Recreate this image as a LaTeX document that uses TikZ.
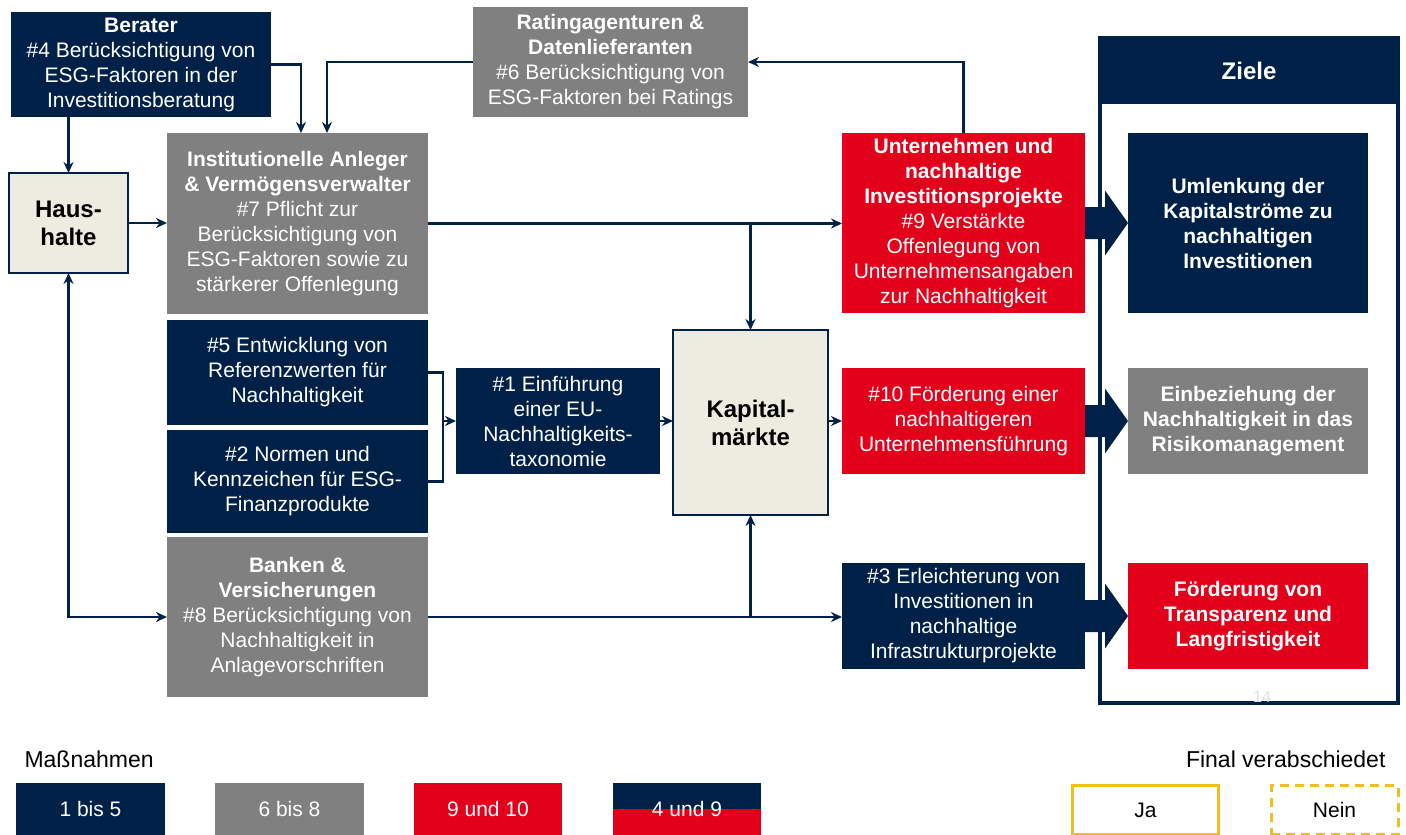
\documentclass[tikz,border=0pt]{standalone}
\usepackage{fontspec}
\setmainfont{Liberation Sans}
\usetikzlibrary{arrows.meta,calc}
\definecolor{navyc}{HTML}{002147}
\definecolor{grayc}{HTML}{808080}
\definecolor{redc}{HTML}{E2001A}
\definecolor{beigec}{HTML}{EEECE1}
\definecolor{goldc}{HTML}{F0BE1E}
\newcommand{\boxfont}{\fontsize{21}{25}\selectfont}
\newcommand{\bigfont}{\fontsize{24}{28}\selectfont}
\newcommand{\legfont}{\fontsize{23}{27}\selectfont}
\newcommand{\legboxfont}{\fontsize{21}{25}\selectfont}
\tikzset{
  box/.style={inner sep=0pt, outer sep=0pt, align=center, font=\boxfont, text=white},
  navybox/.style={box, fill=navyc},
  graybox/.style={box, fill=grayc},
  redbox/.style={box, fill=redc},
  beigebox/.style={box, fill=beigec, draw=navyc, line width=1.5pt, text=black, font=\bigfont},
  conn/.style={draw=navyc, line width=2.2pt, -{Stealth[length=11pt,width=10pt]}},
  biconn/.style={draw=navyc, line width=2.2pt, {Stealth[length=11pt,width=10pt]}-{Stealth[length=11pt,width=10pt]}},
  plainline/.style={draw=navyc, line width=2.2pt},
}
\begin{document}
\begin{tikzpicture}[x=1pt,y=-1pt]
\useasboundingbox (0,0) rectangle (1406,835);

% Ziele frame
\node[draw=navyc, line width=3.5pt, minimum width=298, minimum height=665, inner sep=0pt] (ziele) at (1249,370.5) {};
\node[fill=navyc, text=white, font=\bigfont, minimum width=301.5, minimum height=67, inner sep=0pt] (zielehead) at (1249,70.5) {\textbf{Ziele}};

% boxes
\node[navybox, minimum width=260, minimum height=105] (berater) at (141,64.5)
  {\textbf{Berater}\\\#4 Berücksichtigung von\\ESG-Faktoren in der\\Investitionsberatung};
\node[graybox, minimum width=275, minimum height=110] (rating) at (610.5,62)
  {\textbf{Ratingagenturen \&}\\\textbf{Datenlieferanten}\\\#6 Berücksichtigung von\\ESG-Faktoren bei Ratings};
\node[beigebox, minimum width=119, minimum height=100] (haushalte) at (68.5,223)
  {\textbf{Haus-}\\\textbf{halte}};
\node[graybox, minimum width=261, minimum height=181] (inst) at (297.5,223.5)
  {\textbf{Institutionelle Anleger}\\\textbf{\& Vermögensverwalter}\\\#7 Pflicht zur\\Berücksichtigung von\\ESG-Faktoren sowie zu\\stärkerer Offenlegung};
\node[redbox, minimum width=243, minimum height=180] (unternehmen) at (963.5,223)
  {\textbf{Unternehmen und}\\\textbf{nachhaltige}\\\textbf{Investitionsprojekte}\\\#9 Verstärkte\\Offenlegung von\\Unternehmensangaben\\zur Nachhaltigkeit};
\node[navybox, minimum width=240, minimum height=180] (umlenkung) at (1248,223)
  {\textbf{Umlenkung der}\\\textbf{Kapitalströme zu}\\\textbf{nachhaltigen}\\\textbf{Investitionen}};
\node[navybox, minimum width=261, minimum height=105] (n5) at (297.5,372.5)
  {\#5 Entwicklung von\\Referenzwerten für\\Nachhaltigkeit};
\node[navybox, minimum width=261, minimum height=103] (n2) at (297.5,481.5)
  {\#2 Normen und\\Kennzeichen für ESG-\\Finanzprodukte};
\node[navybox, minimum width=204, minimum height=106] (n1) at (558,421)
  {\#1 Einführung\\einer EU-\\Nachhaltigkeits-\\taxonomie};
\node[beigebox, minimum width=155, minimum height=185] (kapital) at (750.5,422.5)
  {\textbf{Kapital-}\\\textbf{märkte}};
\node[redbox, minimum width=243, minimum height=106] (n10) at (963.5,421)
  {\#10 Förderung einer\\nachhaltigeren\\Unternehmensführung};
\node[graybox, minimum width=240, minimum height=106] (einbez) at (1248,421)
  {\textbf{Einbeziehung der}\\\textbf{Nachhaltigkeit in das}\\\textbf{Risikomanagement}};
\node[graybox, minimum width=261, minimum height=160] (banken) at (297.5,617)
  {\textbf{Banken \&}\\\textbf{Versicherungen}\\\#8 Berücksichtigung von\\Nachhaltigkeit in\\Anlagevorschriften};
\node[navybox, minimum width=243, minimum height=106] (n3) at (963.5,616)
  {\#3 Erleichterung von\\Investitionen in\\nachhaltige\\Infrastrukturprojekte};
\node[redbox, minimum width=240, minimum height=106] (foerd) at (1248,616)
  {\textbf{Förderung von}\\\textbf{Transparenz und}\\\textbf{Langfristigkeit}};

% connectors
\draw[conn] (berater.east) -| ([xshift=3.5pt]inst.north);
\draw[conn] (rating.west) -| ([xshift=29.5pt]inst.north);
\draw[conn] (unternehmen.north) |- (rating.east);
\draw[conn] (berater.south -| haushalte.north) -- (haushalte.north);
\draw[conn] (haushalte.east) -- (haushalte.east -| inst.west);
\draw[biconn] (haushalte.south) |- (banken.west);
\draw[conn] (inst.east) -- (inst.east -| unternehmen.west);
\draw[conn] (inst.east -| kapital.north) -- (kapital.north);
\draw[plainline] (n5.east) -- ++(15,0) coordinate (brt) |- (n2.east);
\draw[conn] (brt |- n1.west) -- (n1.west);
\draw[conn] (n1.east) -- (n1.east -| kapital.west);
\draw[conn] (kapital.east |- n10.west) -- (n10.west);
\draw[conn] (banken.east) -- (banken.east -| n3.west);
\draw[conn] (banken.east -| kapital.south) -- (kapital.south);

% block arrows
\fill[navyc] (unternehmen.east) ++(0,-16) -- ++(20,0) -- ++(0,-16.5) -- (umlenkung.west) -- ++(-23,32.5) -- ++(0,-16.5) -- ++(-20,0) -- cycle;
\fill[navyc] (n10.east) ++(0,-16) -- ++(20,0) -- ++(0,-16.5) -- (einbez.west) -- ++(-23,32.5) -- ++(0,-16.5) -- ++(-20,0) -- cycle;
\fill[navyc] (n3.east) ++(0,-16) -- ++(20,0) -- ++(0,-16.5) -- (foerd.west) -- ++(-23,32.5) -- ++(0,-16.5) -- ++(-20,0) -- cycle;

% page number
\node[text=black!12, font=\fontsize{16}{18}\selectfont] (pnum) at (1262,697) {14};

% legend
\node[anchor=base west, font=\legfont] (massn) at (21,767) {Maßnahmen};
\node[navybox, font=\legboxfont, minimum width=149, minimum height=52] (l1) at (90.5,809) {1 bis 5};
\node[graybox, font=\legboxfont, minimum width=149, minimum height=52] (l2) at (289.5,809) {6 bis 8};
\node[redbox, font=\legboxfont, minimum width=148, minimum height=52] (l3) at (488,809) {9 und 10};
\node[inner sep=0pt, minimum width=148, minimum height=52] (l4) at (687,809) {};
\fill[navyc] (l4.north west) rectangle (l4.east);
\fill[redc] (l4.west) rectangle (l4.south east);
\node[text=white, font=\legboxfont] at (l4.center) {4 und 9};
\node[anchor=base east, font=\legfont] (final) at (1389,767) {Final verabschiedet};
\node[draw=goldc, line width=3pt, font=\legboxfont, minimum width=146, minimum height=49, inner sep=0pt] (ja) at (1145.5,810) {Ja};
\node[draw=goldc, line width=3pt, dash pattern=on 9pt off 6pt, font=\legboxfont, minimum width=127, minimum height=49, inner sep=0pt] (nein) at (1334.5,810) {Nein};
\end{tikzpicture}
\end{document}
